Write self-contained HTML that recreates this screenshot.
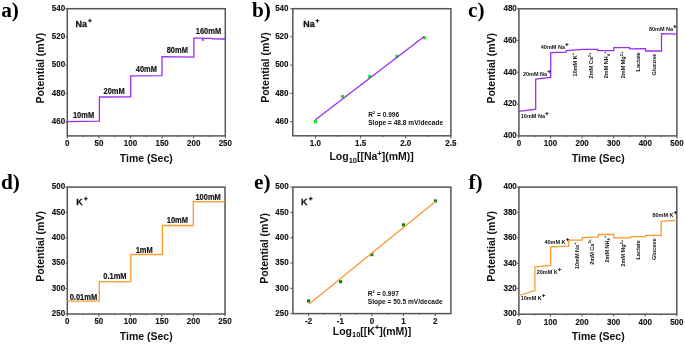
<!DOCTYPE html>
<html><head><meta charset="utf-8"><style>
html,body{margin:0;padding:0;background:#fff;}
body{width:685px;height:344px;overflow:hidden;}
svg{display:block;will-change:transform;}
text{font-family:"Liberation Sans",sans-serif;font-weight:bold;fill:#111;}
.tk{font-size:8.0px;stroke:#111;stroke-width:0.12px;}
.ti{font-size:10.5px;}
.st{font-size:7.5px;stroke:#111;stroke-width:0.15px;}
.an{font-size:6.6px;}
.sm{font-size:5.5px;}
.ion{font-size:8.9px;stroke:#111;stroke-width:0.25px;}
.lt{font-family:"Liberation Serif",serif;font-size:21.3px;fill:#000;}
</style></head><body>
<svg width="685" height="344" viewBox="0 0 685 344">
<rect width="685" height="344" fill="#fff"/>
<text class="lt" x="1.2" y="16.8">a)</text>
<rect x="67.3" y="8.7" width="158" height="127.2" fill="none" stroke="#555555" stroke-width="1.5"/>
<line x1="67.3" y1="135.9" x2="67.3" y2="138.4" stroke="#555555" stroke-width="1"/>
<text class="tk" text-anchor="middle" transform="translate(67.3,146.3) scale(1,1.18)">0</text>
<line x1="98.9" y1="135.9" x2="98.9" y2="138.4" stroke="#555555" stroke-width="1"/>
<text class="tk" text-anchor="middle" transform="translate(98.9,146.3) scale(1,1.18)">50</text>
<line x1="130.5" y1="135.9" x2="130.5" y2="138.4" stroke="#555555" stroke-width="1"/>
<text class="tk" text-anchor="middle" transform="translate(130.5,146.3) scale(1,1.18)">100</text>
<line x1="162.1" y1="135.9" x2="162.1" y2="138.4" stroke="#555555" stroke-width="1"/>
<text class="tk" text-anchor="middle" transform="translate(162.1,146.3) scale(1,1.18)">150</text>
<line x1="193.7" y1="135.9" x2="193.7" y2="138.4" stroke="#555555" stroke-width="1"/>
<text class="tk" text-anchor="middle" transform="translate(193.7,146.3) scale(1,1.18)">200</text>
<line x1="225.3" y1="135.9" x2="225.3" y2="138.4" stroke="#555555" stroke-width="1"/>
<text class="tk" text-anchor="middle" transform="translate(225.3,146.3) scale(1,1.18)">250</text>
<line x1="83.1" y1="135.9" x2="83.1" y2="137.2" stroke="#555555" stroke-width="0.9"/>
<line x1="114.7" y1="135.9" x2="114.7" y2="137.2" stroke="#555555" stroke-width="0.9"/>
<line x1="146.3" y1="135.9" x2="146.3" y2="137.2" stroke="#555555" stroke-width="0.9"/>
<line x1="177.9" y1="135.9" x2="177.9" y2="137.2" stroke="#555555" stroke-width="0.9"/>
<line x1="209.5" y1="135.9" x2="209.5" y2="137.2" stroke="#555555" stroke-width="0.9"/>
<line x1="65.5" y1="121.77" x2="67.3" y2="121.77" stroke="#555555" stroke-width="1"/>
<text class="tk" text-anchor="end" transform="translate(65.2,123.97) scale(1,1.18)">460</text>
<line x1="65.5" y1="93.5" x2="67.3" y2="93.5" stroke="#555555" stroke-width="1"/>
<text class="tk" text-anchor="end" transform="translate(65.2,95.7) scale(1,1.18)">480</text>
<line x1="65.5" y1="65.23" x2="67.3" y2="65.23" stroke="#555555" stroke-width="1"/>
<text class="tk" text-anchor="end" transform="translate(65.2,67.43) scale(1,1.18)">500</text>
<line x1="65.5" y1="36.97" x2="67.3" y2="36.97" stroke="#555555" stroke-width="1"/>
<text class="tk" text-anchor="end" transform="translate(65.2,39.17) scale(1,1.18)">520</text>
<line x1="65.5" y1="8.7" x2="67.3" y2="8.7" stroke="#555555" stroke-width="1"/>
<text class="tk" text-anchor="end" transform="translate(65.2,10.9) scale(1,1.18)">540</text>
<text class="ti" text-anchor="middle" transform="translate(44,68.1) rotate(-90)">Potential (mV)</text>
<text class="ti" x="146.3" y="162" text-anchor="middle">Time (Sec)</text>
<text class="ion" transform="translate(75.6,26.7) scale(1,1.1)">Na</text>
<path d="M88.05,20.7h3.7M89.9,18.85v3.7" stroke="#181818" stroke-width="1.15" fill="none"/>
<path d="M67.3,121.6 L99.4,121.2 L99.4,97 L130.7,96.8 L130.7,75.8 L162,75.6 L162,56.7 L193.9,57.2 L193.9,38.1 L202.3,38.2 L202.8,40.8 L203.3,38.3 L212,38.4 L212.6,38.9 L225,39" fill="none" stroke="#9a2cf0" stroke-width="1.3"/>
<text class="st" transform="translate(72.9,118.1) scale(1,1.2)">10mM</text>
<text class="st" transform="translate(103.5,93.8) scale(1,1.2)">20mM</text>
<text class="st" transform="translate(135.8,72.1) scale(1,1.2)">40mM</text>
<text class="st" transform="translate(166.7,53.1) scale(1,1.2)">80mM</text>
<text class="st" transform="translate(195.8,33.9) scale(1,1.2)">160mM</text>
<text class="lt" x="252" y="16.8">b)</text>
<rect x="292.8" y="8.7" width="158.1" height="127.1" fill="none" stroke="#555555" stroke-width="1.5"/>
<line x1="315.39" y1="135.8" x2="315.39" y2="138.4" stroke="#555555" stroke-width="1"/>
<text class="tk" text-anchor="middle" transform="translate(315.39,146.2) scale(1,1.18)">1.0</text>
<line x1="360.56" y1="135.8" x2="360.56" y2="138.4" stroke="#555555" stroke-width="1"/>
<text class="tk" text-anchor="middle" transform="translate(360.56,146.2) scale(1,1.18)">1.5</text>
<line x1="405.73" y1="135.8" x2="405.73" y2="138.4" stroke="#555555" stroke-width="1"/>
<text class="tk" text-anchor="middle" transform="translate(405.73,146.2) scale(1,1.18)">2.0</text>
<line x1="450.9" y1="135.8" x2="450.9" y2="138.4" stroke="#555555" stroke-width="1"/>
<text class="tk" text-anchor="middle" transform="translate(450.9,146.2) scale(1,1.18)">2.5</text>
<line x1="337.97" y1="135.8" x2="337.97" y2="137.1" stroke="#555555" stroke-width="0.9"/>
<line x1="383.14" y1="135.8" x2="383.14" y2="137.1" stroke="#555555" stroke-width="0.9"/>
<line x1="428.31" y1="135.8" x2="428.31" y2="137.1" stroke="#555555" stroke-width="0.9"/>
<line x1="290.2" y1="121.68" x2="292.8" y2="121.68" stroke="#555555" stroke-width="1"/>
<text class="tk" text-anchor="end" transform="translate(288.5,123.88) scale(1,1.18)">460</text>
<line x1="290.2" y1="93.43" x2="292.8" y2="93.43" stroke="#555555" stroke-width="1"/>
<text class="tk" text-anchor="end" transform="translate(288.5,95.63) scale(1,1.18)">480</text>
<line x1="290.2" y1="65.19" x2="292.8" y2="65.19" stroke="#555555" stroke-width="1"/>
<text class="tk" text-anchor="end" transform="translate(288.5,67.39) scale(1,1.18)">500</text>
<line x1="290.2" y1="36.94" x2="292.8" y2="36.94" stroke="#555555" stroke-width="1"/>
<text class="tk" text-anchor="end" transform="translate(288.5,39.14) scale(1,1.18)">520</text>
<line x1="290.2" y1="8.7" x2="292.8" y2="8.7" stroke="#555555" stroke-width="1"/>
<text class="tk" text-anchor="end" transform="translate(288.5,10.9) scale(1,1.18)">540</text>
<text class="ti" text-anchor="middle" transform="translate(268.9,67.5) rotate(-90)">Potential (mV)</text>
<text class="ti" x="371.6" y="160.3" text-anchor="middle">Log<tspan font-size="7.5" dy="2.5">10</tspan><tspan dy="-2.5">[[Na</tspan><tspan font-size="7" dy="-4.2" dx="0.1" style="stroke:#111;stroke-width:0.2px">+</tspan><tspan dy="4.2">](mM)]</tspan></text>
<text class="ion" transform="translate(303.3,26.8) scale(1,1.1)">Na</text>
<path d="M315.55,20.75h3.7M317.4,18.9v3.7" stroke="#181818" stroke-width="1.15" fill="none"/>
<rect x="313.8" y="120.1" width="3.2" height="3.2" fill="#12ee12"/>
<rect x="341" y="94.9" width="3.2" height="3.2" fill="#12ee12"/>
<rect x="368.1" y="75" width="3.2" height="3.2" fill="#12ee12"/>
<rect x="395.3" y="54.7" width="3.2" height="3.2" fill="#12ee12"/>
<rect x="422.9" y="36.2" width="3.2" height="3.2" fill="#12ee12"/>
<line x1="315.4" y1="119.8" x2="424.2" y2="36.4" stroke="#9a2cf0" stroke-width="1.3"/>
<text class="an" transform="translate(368.2,116.7) scale(1,1.08)">R<tspan font-size="4" dy="-2.4">2</tspan><tspan dy="2.4"> = 0.996</tspan></text>
<text class="an" transform="translate(368.2,124.8) scale(1,1.08)">Slope = 48.8 mV/decade</text>
<text class="lt" x="468" y="16.8">c)</text>
<rect x="518.9" y="8.8" width="158" height="127.1" fill="none" stroke="#555555" stroke-width="1.5"/>
<line x1="518.9" y1="135.9" x2="518.9" y2="138.4" stroke="#555555" stroke-width="1"/>
<text class="tk" text-anchor="middle" transform="translate(518.9,146.3) scale(1,1.18)">0</text>
<line x1="550.5" y1="135.9" x2="550.5" y2="138.4" stroke="#555555" stroke-width="1"/>
<text class="tk" text-anchor="middle" transform="translate(550.5,146.3) scale(1,1.18)">100</text>
<line x1="582.1" y1="135.9" x2="582.1" y2="138.4" stroke="#555555" stroke-width="1"/>
<text class="tk" text-anchor="middle" transform="translate(582.1,146.3) scale(1,1.18)">200</text>
<line x1="613.7" y1="135.9" x2="613.7" y2="138.4" stroke="#555555" stroke-width="1"/>
<text class="tk" text-anchor="middle" transform="translate(613.7,146.3) scale(1,1.18)">300</text>
<line x1="645.3" y1="135.9" x2="645.3" y2="138.4" stroke="#555555" stroke-width="1"/>
<text class="tk" text-anchor="middle" transform="translate(645.3,146.3) scale(1,1.18)">400</text>
<line x1="676.9" y1="135.9" x2="676.9" y2="138.4" stroke="#555555" stroke-width="1"/>
<text class="tk" text-anchor="middle" transform="translate(676.9,146.3) scale(1,1.18)">500</text>
<line x1="534.7" y1="135.9" x2="534.7" y2="137.2" stroke="#555555" stroke-width="0.9"/>
<line x1="566.3" y1="135.9" x2="566.3" y2="137.2" stroke="#555555" stroke-width="0.9"/>
<line x1="597.9" y1="135.9" x2="597.9" y2="137.2" stroke="#555555" stroke-width="0.9"/>
<line x1="629.5" y1="135.9" x2="629.5" y2="137.2" stroke="#555555" stroke-width="0.9"/>
<line x1="661.1" y1="135.9" x2="661.1" y2="137.2" stroke="#555555" stroke-width="0.9"/>
<line x1="517.1" y1="135.9" x2="518.9" y2="135.9" stroke="#555555" stroke-width="1"/>
<text class="tk" text-anchor="end" transform="translate(516.8,138.1) scale(1,1.18)">400</text>
<line x1="517.1" y1="104.12" x2="518.9" y2="104.12" stroke="#555555" stroke-width="1"/>
<text class="tk" text-anchor="end" transform="translate(516.8,106.33) scale(1,1.18)">420</text>
<line x1="517.1" y1="72.35" x2="518.9" y2="72.35" stroke="#555555" stroke-width="1"/>
<text class="tk" text-anchor="end" transform="translate(516.8,74.55) scale(1,1.18)">440</text>
<line x1="517.1" y1="40.58" x2="518.9" y2="40.58" stroke="#555555" stroke-width="1"/>
<text class="tk" text-anchor="end" transform="translate(516.8,42.78) scale(1,1.18)">460</text>
<line x1="517.1" y1="8.8" x2="518.9" y2="8.8" stroke="#555555" stroke-width="1"/>
<text class="tk" text-anchor="end" transform="translate(516.8,11) scale(1,1.18)">480</text>
<text class="ti" text-anchor="middle" transform="translate(495.3,68.3) rotate(-90)">Potential (mV)</text>
<text class="ti" x="598.2" y="162" text-anchor="middle">Time (Sec)</text>
<path d="M518.9,111.3 L535.7,109.1 L535.7,79.2 L550.7,77.5 L550.7,52.6 L566.3,52.2 L566.3,50.7 L582.7,49.4 L597.7,49.4 L597.7,50.7 L613.8,50.7 L613.8,47.6 L629.6,47.6 L629.6,48.8 L645.5,48.7 L645.5,51 L661.5,51 L661.5,33.7 L676.9,34.2" fill="none" stroke="#9a2cf0" stroke-width="1.3"/>
<text class="sm" x="520.8" y="117.8">10mM Na<tspan font-size="5.6" dy="-3" dx="0.3" style="stroke:#111;stroke-width:0.25px">+</tspan></text>
<text class="sm" x="523" y="75.8">20mM Na<tspan font-size="5.6" dy="-3" dx="0.3" style="stroke:#111;stroke-width:0.25px">+</tspan></text>
<text class="sm" x="540.8" y="48.8">40mM Na<tspan font-size="5.6" dy="-3" dx="0.3" style="stroke:#111;stroke-width:0.25px">+</tspan></text>
<text class="sm" x="648.9" y="30.7">80mM Na<tspan font-size="5.6" dy="-3" dx="0.3" style="stroke:#111;stroke-width:0.25px">+</tspan></text>
<text class="sm" transform="translate(576.7,76.4) rotate(-90)">10mM K<tspan font-size="4" dy="-2.5">+</tspan></text>
<text class="sm" transform="translate(593.3,78.4) rotate(-90)">2mM Ca<tspan font-size="4" dy="-2.5">2+</tspan></text>
<text class="sm" transform="translate(608.3,78.3) rotate(-90)">2mM NH<tspan font-size="4" dy="1.2">4</tspan><tspan font-size="4" dy="-3.7">+</tspan></text>
<text class="sm" transform="translate(625.3,78.3) rotate(-90)">2mM Mg<tspan font-size="4" dy="-2.5">2+</tspan></text>
<text class="sm" transform="translate(640.3,71.4) rotate(-90)">Lactate</text>
<text class="sm" transform="translate(655.7,75.4) rotate(-90)">Glucose</text>
<text class="lt" x="0.9" y="189.1">d)</text>
<rect x="67.3" y="187.1" width="157.7" height="126.9" fill="none" stroke="#555555" stroke-width="1.5"/>
<line x1="67.3" y1="314" x2="67.3" y2="316.5" stroke="#555555" stroke-width="1"/>
<text class="tk" text-anchor="middle" transform="translate(67.3,324.4) scale(1,1.18)">0</text>
<line x1="98.84" y1="314" x2="98.84" y2="316.5" stroke="#555555" stroke-width="1"/>
<text class="tk" text-anchor="middle" transform="translate(98.84,324.4) scale(1,1.18)">50</text>
<line x1="130.38" y1="314" x2="130.38" y2="316.5" stroke="#555555" stroke-width="1"/>
<text class="tk" text-anchor="middle" transform="translate(130.38,324.4) scale(1,1.18)">100</text>
<line x1="161.92" y1="314" x2="161.92" y2="316.5" stroke="#555555" stroke-width="1"/>
<text class="tk" text-anchor="middle" transform="translate(161.92,324.4) scale(1,1.18)">150</text>
<line x1="193.46" y1="314" x2="193.46" y2="316.5" stroke="#555555" stroke-width="1"/>
<text class="tk" text-anchor="middle" transform="translate(193.46,324.4) scale(1,1.18)">200</text>
<line x1="225" y1="314" x2="225" y2="316.5" stroke="#555555" stroke-width="1"/>
<text class="tk" text-anchor="middle" transform="translate(225,324.4) scale(1,1.18)">250</text>
<line x1="83.07" y1="314" x2="83.07" y2="315.3" stroke="#555555" stroke-width="0.9"/>
<line x1="114.61" y1="314" x2="114.61" y2="315.3" stroke="#555555" stroke-width="0.9"/>
<line x1="146.15" y1="314" x2="146.15" y2="315.3" stroke="#555555" stroke-width="0.9"/>
<line x1="177.69" y1="314" x2="177.69" y2="315.3" stroke="#555555" stroke-width="0.9"/>
<line x1="209.23" y1="314" x2="209.23" y2="315.3" stroke="#555555" stroke-width="0.9"/>
<line x1="65.5" y1="314" x2="67.3" y2="314" stroke="#555555" stroke-width="1"/>
<text class="tk" text-anchor="end" transform="translate(65.2,316.2) scale(1,1.18)">250</text>
<line x1="65.5" y1="288.62" x2="67.3" y2="288.62" stroke="#555555" stroke-width="1"/>
<text class="tk" text-anchor="end" transform="translate(65.2,290.82) scale(1,1.18)">300</text>
<line x1="65.5" y1="263.24" x2="67.3" y2="263.24" stroke="#555555" stroke-width="1"/>
<text class="tk" text-anchor="end" transform="translate(65.2,265.44) scale(1,1.18)">350</text>
<line x1="65.5" y1="237.86" x2="67.3" y2="237.86" stroke="#555555" stroke-width="1"/>
<text class="tk" text-anchor="end" transform="translate(65.2,240.06) scale(1,1.18)">400</text>
<line x1="65.5" y1="212.48" x2="67.3" y2="212.48" stroke="#555555" stroke-width="1"/>
<text class="tk" text-anchor="end" transform="translate(65.2,214.68) scale(1,1.18)">450</text>
<line x1="65.5" y1="187.1" x2="67.3" y2="187.1" stroke="#555555" stroke-width="1"/>
<text class="tk" text-anchor="end" transform="translate(65.2,189.3) scale(1,1.18)">500</text>
<text class="ti" text-anchor="middle" transform="translate(44,246.4) rotate(-90)">Potential (mV)</text>
<text class="ti" x="146.2" y="340.2" text-anchor="middle">Time (Sec)</text>
<text class="ion" transform="translate(76.3,205) scale(1,1.1)">K</text>
<path d="M83.95,198.7h3.7M85.8,196.85v3.7" stroke="#181818" stroke-width="1.15" fill="none"/>
<path d="M67.3,301.1 L99.3,301.1 L99.3,281.6 L130.8,281.6 L130.8,254.5 L162.4,254.5 L162.4,225.5 L193.3,225.5 L193.3,201.6 L225,201.6" fill="none" stroke="#f89a30" stroke-width="1.3"/>
<text class="st" transform="translate(69.7,299.6) scale(1,1.2)">0.01mM</text>
<text class="st" transform="translate(103.3,279.2) scale(1,1.2)">0.1mM</text>
<text class="st" transform="translate(135.7,252.5) scale(1,1.2)">1mM</text>
<text class="st" transform="translate(166.8,223.1) scale(1,1.2)">10mM</text>
<text class="st" transform="translate(195.4,199.5) scale(1,1.2)">100mM</text>
<text class="lt" x="254" y="189.1">e)</text>
<rect x="292.9" y="187.1" width="158" height="126.5" fill="none" stroke="#555555" stroke-width="1.5"/>
<line x1="308.7" y1="313.6" x2="308.7" y2="316.2" stroke="#555555" stroke-width="1"/>
<text class="tk" text-anchor="middle" transform="translate(308.7,324) scale(1,1.18)">-2</text>
<line x1="340.3" y1="313.6" x2="340.3" y2="316.2" stroke="#555555" stroke-width="1"/>
<text class="tk" text-anchor="middle" transform="translate(340.3,324) scale(1,1.18)">-1</text>
<line x1="371.9" y1="313.6" x2="371.9" y2="316.2" stroke="#555555" stroke-width="1"/>
<text class="tk" text-anchor="middle" transform="translate(371.9,324) scale(1,1.18)">0</text>
<line x1="403.5" y1="313.6" x2="403.5" y2="316.2" stroke="#555555" stroke-width="1"/>
<text class="tk" text-anchor="middle" transform="translate(403.5,324) scale(1,1.18)">1</text>
<line x1="435.1" y1="313.6" x2="435.1" y2="316.2" stroke="#555555" stroke-width="1"/>
<text class="tk" text-anchor="middle" transform="translate(435.1,324) scale(1,1.18)">2</text>
<line x1="324.5" y1="313.6" x2="324.5" y2="314.9" stroke="#555555" stroke-width="0.9"/>
<line x1="356.1" y1="313.6" x2="356.1" y2="314.9" stroke="#555555" stroke-width="0.9"/>
<line x1="387.7" y1="313.6" x2="387.7" y2="314.9" stroke="#555555" stroke-width="0.9"/>
<line x1="419.3" y1="313.6" x2="419.3" y2="314.9" stroke="#555555" stroke-width="0.9"/>
<line x1="290.3" y1="313.6" x2="292.9" y2="313.6" stroke="#555555" stroke-width="1"/>
<text class="tk" text-anchor="end" transform="translate(288.6,315.8) scale(1,1.18)">250</text>
<line x1="290.3" y1="288.3" x2="292.9" y2="288.3" stroke="#555555" stroke-width="1"/>
<text class="tk" text-anchor="end" transform="translate(288.6,290.5) scale(1,1.18)">300</text>
<line x1="290.3" y1="263" x2="292.9" y2="263" stroke="#555555" stroke-width="1"/>
<text class="tk" text-anchor="end" transform="translate(288.6,265.2) scale(1,1.18)">350</text>
<line x1="290.3" y1="237.7" x2="292.9" y2="237.7" stroke="#555555" stroke-width="1"/>
<text class="tk" text-anchor="end" transform="translate(288.6,239.9) scale(1,1.18)">400</text>
<line x1="290.3" y1="212.4" x2="292.9" y2="212.4" stroke="#555555" stroke-width="1"/>
<text class="tk" text-anchor="end" transform="translate(288.6,214.6) scale(1,1.18)">450</text>
<line x1="290.3" y1="187.1" x2="292.9" y2="187.1" stroke="#555555" stroke-width="1"/>
<text class="tk" text-anchor="end" transform="translate(288.6,189.3) scale(1,1.18)">500</text>
<text class="ti" text-anchor="middle" transform="translate(268.4,248.4) rotate(-90)">Potential (mV)</text>
<text class="ti" x="372" y="334.5" text-anchor="middle">Log<tspan font-size="7.5" dy="2.5">10</tspan><tspan dy="-2.5">[[K</tspan><tspan font-size="7" dy="-4.2" dx="0.1" style="stroke:#111;stroke-width:0.2px">+</tspan><tspan dy="4.2">](mM)]</tspan></text>
<text class="ion" transform="translate(301.1,205.3) scale(1,1.1)">K</text>
<path d="M308.85,198.6h3.7M310.7,196.75v3.7" stroke="#181818" stroke-width="1.15" fill="none"/>
<rect x="307" y="299.4" width="3.2" height="3.2" fill="#0a880a"/>
<rect x="338.9" y="280.1" width="3.2" height="3.2" fill="#0a880a"/>
<rect x="370.2" y="253" width="3.2" height="3.2" fill="#0a880a"/>
<rect x="401.9" y="223.3" width="3.2" height="3.2" fill="#0a880a"/>
<rect x="433.8" y="199.4" width="3.2" height="3.2" fill="#0a880a"/>
<line x1="308.9" y1="304.2" x2="435.4" y2="201.5" stroke="#f89a30" stroke-width="1.3"/>
<text class="an" transform="translate(367.8,295.7) scale(1,1.08)">R<tspan font-size="4" dy="-2.4">2</tspan><tspan dy="2.4"> = 0.997</tspan></text>
<text class="an" transform="translate(367.8,304.1) scale(1,1.08)">Slope = 50.5 mV/decade</text>
<text class="lt" x="468.5" y="189">f)</text>
<rect x="518.9" y="187.1" width="157.9" height="127.1" fill="none" stroke="#555555" stroke-width="1.5"/>
<line x1="518.9" y1="314.2" x2="518.9" y2="316.7" stroke="#555555" stroke-width="1"/>
<text class="tk" text-anchor="middle" transform="translate(518.9,324.6) scale(1,1.18)">0</text>
<line x1="550.48" y1="314.2" x2="550.48" y2="316.7" stroke="#555555" stroke-width="1"/>
<text class="tk" text-anchor="middle" transform="translate(550.48,324.6) scale(1,1.18)">100</text>
<line x1="582.06" y1="314.2" x2="582.06" y2="316.7" stroke="#555555" stroke-width="1"/>
<text class="tk" text-anchor="middle" transform="translate(582.06,324.6) scale(1,1.18)">200</text>
<line x1="613.64" y1="314.2" x2="613.64" y2="316.7" stroke="#555555" stroke-width="1"/>
<text class="tk" text-anchor="middle" transform="translate(613.64,324.6) scale(1,1.18)">300</text>
<line x1="645.22" y1="314.2" x2="645.22" y2="316.7" stroke="#555555" stroke-width="1"/>
<text class="tk" text-anchor="middle" transform="translate(645.22,324.6) scale(1,1.18)">400</text>
<line x1="676.8" y1="314.2" x2="676.8" y2="316.7" stroke="#555555" stroke-width="1"/>
<text class="tk" text-anchor="middle" transform="translate(676.8,324.6) scale(1,1.18)">500</text>
<line x1="534.69" y1="314.2" x2="534.69" y2="315.5" stroke="#555555" stroke-width="0.9"/>
<line x1="566.27" y1="314.2" x2="566.27" y2="315.5" stroke="#555555" stroke-width="0.9"/>
<line x1="597.85" y1="314.2" x2="597.85" y2="315.5" stroke="#555555" stroke-width="0.9"/>
<line x1="629.43" y1="314.2" x2="629.43" y2="315.5" stroke="#555555" stroke-width="0.9"/>
<line x1="661.01" y1="314.2" x2="661.01" y2="315.5" stroke="#555555" stroke-width="0.9"/>
<line x1="517.1" y1="314.2" x2="518.9" y2="314.2" stroke="#555555" stroke-width="1"/>
<text class="tk" text-anchor="end" transform="translate(516.8,316.4) scale(1,1.18)">300</text>
<line x1="517.1" y1="288.78" x2="518.9" y2="288.78" stroke="#555555" stroke-width="1"/>
<text class="tk" text-anchor="end" transform="translate(516.8,290.98) scale(1,1.18)">320</text>
<line x1="517.1" y1="263.36" x2="518.9" y2="263.36" stroke="#555555" stroke-width="1"/>
<text class="tk" text-anchor="end" transform="translate(516.8,265.56) scale(1,1.18)">340</text>
<line x1="517.1" y1="237.94" x2="518.9" y2="237.94" stroke="#555555" stroke-width="1"/>
<text class="tk" text-anchor="end" transform="translate(516.8,240.14) scale(1,1.18)">360</text>
<line x1="517.1" y1="212.52" x2="518.9" y2="212.52" stroke="#555555" stroke-width="1"/>
<text class="tk" text-anchor="end" transform="translate(516.8,214.72) scale(1,1.18)">380</text>
<line x1="517.1" y1="187.1" x2="518.9" y2="187.1" stroke="#555555" stroke-width="1"/>
<text class="tk" text-anchor="end" transform="translate(516.8,189.3) scale(1,1.18)">400</text>
<text class="ti" text-anchor="middle" transform="translate(495.3,246.4) rotate(-90)">Potential (mV)</text>
<text class="ti" x="598.2" y="339.9" text-anchor="middle">Time (Sec)</text>
<path d="M518.9,295.5 L534.9,290.5 L534.9,266.8 L550.7,265.5 L550.7,246.8 L568.8,246.1 L568.8,240.1 L582.3,240 L582.3,237.6 L598.4,236.8 L598.4,234.5 L613.8,234.5 L613.8,237.9 L630.6,237.9 L630.6,236.6 L645.7,236.6 L645.7,235.4 L661.2,235.4 L661.2,221.4 L676.8,220.3" fill="none" stroke="#f89a30" stroke-width="1.3"/>
<text class="sm" x="520.7" y="300.1">10mM K<tspan font-size="5.6" dy="-3" dx="0.3" style="stroke:#111;stroke-width:0.25px">+</tspan></text>
<text class="sm" x="536.7" y="273.8">20mM K<tspan font-size="5.6" dy="-3" dx="0.3" style="stroke:#111;stroke-width:0.25px">+</tspan></text>
<text class="sm" x="544.5" y="243.8">40mM K<tspan font-size="5.6" dy="-3" dx="0.3" style="stroke:#111;stroke-width:0.25px">+</tspan></text>
<text class="sm" x="652.4" y="217.4">80mM K<tspan font-size="5.6" dy="-3" dx="0.3" style="stroke:#111;stroke-width:0.25px">+</tspan></text>
<text class="sm" transform="translate(578.8,269) rotate(-90)">10mM Na<tspan font-size="4" dy="-2.5">+</tspan></text>
<text class="sm" transform="translate(593.9,264.7) rotate(-90)">2mM Ca<tspan font-size="4" dy="-2.5">2+</tspan></text>
<text class="sm" transform="translate(608.8,262.5) rotate(-90)">2mM NH<tspan font-size="4" dy="1.2">4</tspan><tspan font-size="4" dy="-3.7">+</tspan></text>
<text class="sm" transform="translate(625.3,266.5) rotate(-90)">2mM Mg<tspan font-size="4" dy="-2.5">2+</tspan></text>
<text class="sm" transform="translate(639.9,259.5) rotate(-90)">Lactate</text>
<text class="sm" transform="translate(655.5,260) rotate(-90)">Glucose</text>
</svg>
</body></html>
